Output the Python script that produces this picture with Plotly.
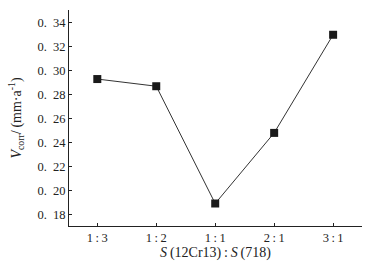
import plotly.graph_objects as go

categories = ["1\u2009:\u20093", "1\u2009:\u20092", "1\u2009:\u20091", "2\u2009:\u20091", "3\u2009:\u20091"]
v_corr = [0.293, 0.287, 0.189, 0.248, 0.330]
y_ticks = [0.18, 0.20, 0.22, 0.24, 0.26, 0.28, 0.30, 0.32, 0.34]
y_tick_text = ["0.\u2002" + s for s in ["18", "20", "22", "24", "26", "28", "30", "32", "34"]]

xpos = list(range(len(categories)))

fig = go.Figure(go.Scatter(
    x=xpos, y=v_corr, mode="lines+markers",
    line=dict(color="#333333", width=1),
    marker=dict(symbol="square", size=8, color="#1a1a1a"),
))

font = dict(family="Liberation Serif, Times New Roman, serif", size=12.5, color="#222222")
tfont = dict(family="Liberation Serif, Times New Roman, serif", size=14, color="#222222")

fig.update_layout(
    width=371, height=267,
    margin=dict(l=69, r=9, t=10, b=39),
    plot_bgcolor="white", paper_bgcolor="white",
    showlegend=False,
    font=font,
    xaxis=dict(
        range=[-0.48, 4.49], tickvals=xpos, ticktext=categories,
        showline=True, linecolor="#222222", linewidth=1,
        ticks="inside", ticklen=3, tickcolor="#222222",
        showgrid=False, zeroline=False, tickfont=font,
        title=dict(text="<i>S</i>\u2009(12Cr13)\u2009:\u2009<i>S</i>\u2009(718)", standoff=3, font=tfont),
    ),
    yaxis=dict(
        range=[0.1702, 0.3507], tickvals=y_ticks, ticktext=y_tick_text,
        showline=True, linecolor="#222222", linewidth=1,
        ticks="inside", ticklen=3, tickcolor="#222222",
        showgrid=False, zeroline=False, tickfont=font,
        title=dict(text="<i>V</i><sub>corr</sub>/\u2009(mm·a<sup>-1</sup>)", standoff=12, font=tfont),
    ),
)

fig.write_html("out.html")
